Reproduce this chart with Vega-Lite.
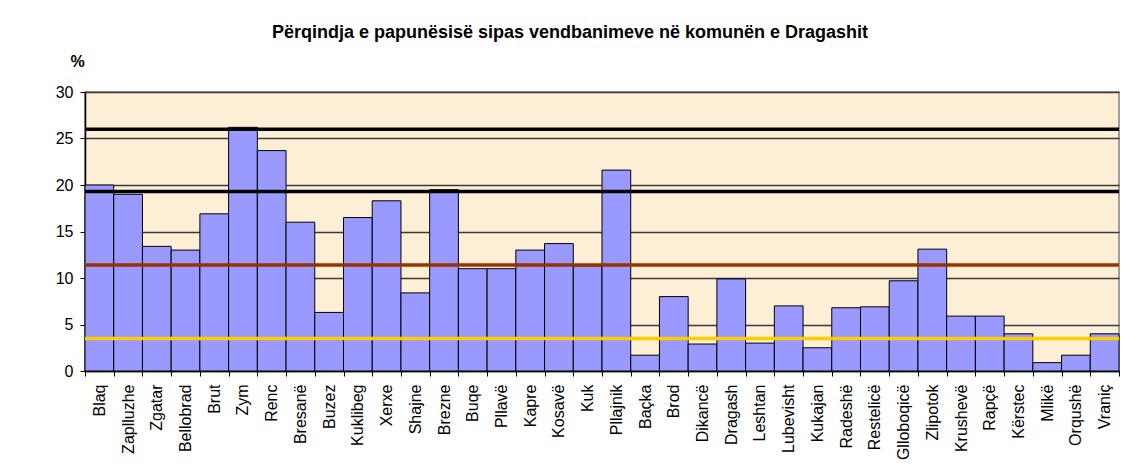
{
  "$schema": "https://vega.github.io/schema/vega-lite/v6.json",
  "autosize": {"type": "none"},
  "width": 1034,
  "height": 279,
  "padding": {"left": 85, "top": 92, "right": 8, "bottom": 102},
  "background": "#ffffff",
  "title": {
    "text": "Përqindja e papunësisë sipas vendbanimeve në komunën e Dragashit",
    "font": "Liberation Sans",
    "fontSize": 18,
    "fontWeight": "bold",
    "color": "#000000",
    "anchor": "middle",
    "dx": -32,
    "dy": 27,
    "baseline": "alphabetic",
    "offset": 25
  },
  "config": {
    "font": "Liberation Sans",
    "view": {"fill": "#FCEFD6", "stroke": "#808080", "strokeWidth": 1.5}
  },
  "datasets": {
    "bars": [
      {"v": "Blaq", "p": 20.0},
      {"v": "Zaplluzhe", "p": 19.0},
      {"v": "Zgatar", "p": 13.4},
      {"v": "Bellobrad", "p": 13.0},
      {"v": "Brut", "p": 16.9},
      {"v": "Zym", "p": 26.2},
      {"v": "Renc", "p": 23.7},
      {"v": "Bresanë", "p": 16.0},
      {"v": "Buzez", "p": 6.3},
      {"v": "Kuklibeg", "p": 16.5},
      {"v": "Xerxe", "p": 18.3},
      {"v": "Shajne", "p": 8.4},
      {"v": "Brezne", "p": 19.5},
      {"v": "Buqe", "p": 11.0},
      {"v": "Pllavë", "p": 11.0},
      {"v": "Kapre", "p": 13.0},
      {"v": "Kosavë", "p": 13.7},
      {"v": "Kuk", "p": 11.3},
      {"v": "Pllajnik", "p": 21.6},
      {"v": "Baçka", "p": 1.7},
      {"v": "Brod", "p": 8.0},
      {"v": "Dikancë", "p": 2.9},
      {"v": "Dragash", "p": 9.9},
      {"v": "Leshtan", "p": 3.0},
      {"v": "Lubevisht", "p": 7.0},
      {"v": "Kukajan", "p": 2.5},
      {"v": "Radeshë", "p": 6.8},
      {"v": "Restelicë", "p": 6.9},
      {"v": "Glloboqicë", "p": 9.7},
      {"v": "Zlipotok", "p": 13.1},
      {"v": "Krushevë", "p": 5.9},
      {"v": "Rapçë", "p": 5.9},
      {"v": "Kërstec", "p": 4.0},
      {"v": "Mlikë", "p": 0.9},
      {"v": "Orqushë", "p": 1.7},
      {"v": "Vraniç", "p": 4.0}
    ],
    "refs": [
      {"y": 26.0, "c": "a"},
      {"y": 19.3, "c": "b"},
      {"y": 11.4, "c": "c"},
      {"y": 3.5, "c": "d"}
    ]
  },
  "layer": [
    {
      "data": {"name": "bars"},
      "mark": {"type": "bar", "fill": "#9999FF", "stroke": "#000000", "strokeWidth": 1},
      "encoding": {
        "x": {
          "field": "v",
          "type": "nominal",
          "sort": null,
          "scale": {"paddingInner": 0, "paddingOuter": 0},
          "axis": {
            "title": null,
            "labelAngle": -90,
            "labelAlign": "right",
            "labelBaseline": "middle",
            "labelFontSize": 16,
            "labelColor": "#000000",
            "labelPadding": 8,
            "tickSize": 5,
            "tickColor": "#000000",
            "tickBand": "extent",
            "domainColor": "#000000",
            "domainWidth": 1.5,
            "labelOverlap": false
          }
        },
        "y": {
          "field": "p",
          "type": "quantitative",
          "scale": {"domain": [0, 30], "nice": false},
          "axis": {
            "values": [0, 5, 10, 15, 20, 25, 30],
            "title": "%",
            "titleAngle": 0,
            "titleX": -8,
            "titleY": -25.5,
            "titleAlign": "center",
            "titleBaseline": "alphabetic",
            "titleFontSize": 16,
            "titleFontWeight": "bold",
            "titleColor": "#000000",
            "labelFontSize": 16,
            "labelColor": "#000000",
            "labelPadding": 7,
            "tickSize": 5,
            "tickColor": "#000000",
            "domainColor": "#000000",
            "domainWidth": 1.5,
            "grid": true,
            "gridColor": "#3a3a3a",
            "gridWidth": 1.5
          }
        }
      }
    },
    {
      "data": {"name": "refs"},
      "mark": {"type": "rule", "strokeWidth": 3.5},
      "encoding": {
        "y": {"field": "y", "type": "quantitative"},
        "color": {
          "field": "c",
          "type": "nominal",
          "scale": {"domain": ["a", "b", "c", "d"], "range": ["#000000", "#000000", "#993300", "#FFCC00"]},
          "legend": null
        }
      }
    }
  ]
}
